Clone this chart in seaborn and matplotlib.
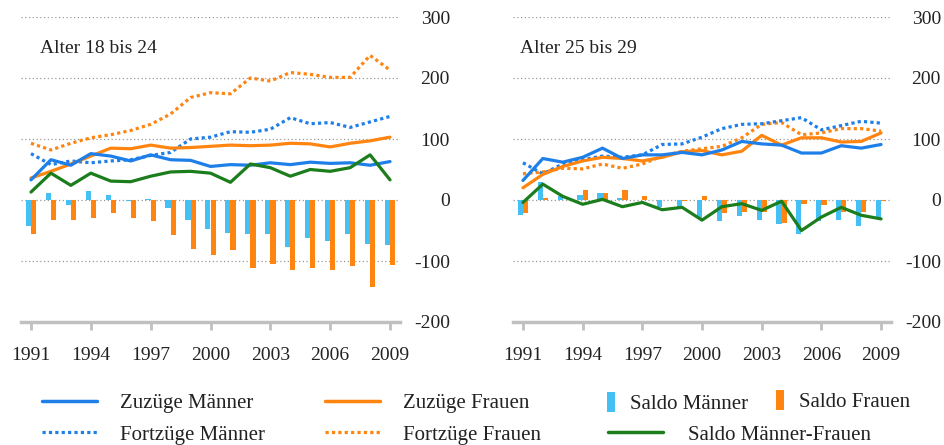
import matplotlib
matplotlib.use("Agg")
import matplotlib.pyplot as plt
from matplotlib.lines import Line2D
from matplotlib.patches import Patch
import seaborn as sns
import pandas as pd

years = list(range(1991, 2010))

# Alter 18 bis 24
zuz_m_1 = [33, 66, 57, 76, 72, 64, 74, 66, 65, 55, 58, 57, 61, 58, 62, 60, 61, 57, 63]
zuz_f_1 = [36, 47, 59, 72, 85, 84, 90, 85, 86, 88, 90, 89, 90, 93, 92, 87, 93, 97, 103]
fort_m_1 = [76, 58, 64, 61, 64, 66, 73, 78, 100, 103, 112, 111, 116, 135, 125, 127, 119, 128, 137]
fort_f_1 = [93, 82, 93, 102, 107, 114, 124, 141, 168, 176, 174, 200, 195, 209, 206, 201, 201, 237, 213]
saldo_m_1 = [-43, 12, -8, 14, 9, -1, 1, -13, -33, -47, -54, -55, -55, -77, -62, -67, -56, -72, -74]
saldo_f_1 = [-55, -33, -32, -29, -22, -30, -35, -58, -80, -90, -82, -111, -105, -114, -112, -114, -108, -143, -107]
saldo_mf_1 = [13, 44, 24, 44, 31, 30, 39, 46, 47, 44, 29, 59, 53, 39, 50, 47, 53, 74, 33]

# Alter 25 bis 29
zuz_m_2 = [32, 68, 62, 70, 85, 68, 74, 74, 78, 74, 82, 96, 92, 90, 77, 77, 89, 85, 91]
zuz_f_2 = [20, 42, 55, 64, 70, 68, 64, 70, 79, 81, 74, 80, 106, 90, 102, 102, 95, 96, 110]
fort_m_2 = [61, 43, 59, 66, 72, 70, 74, 91, 92, 103, 117, 124, 125, 130, 135, 115, 122, 129, 126]
fort_f_2 = [43, 46, 52, 51, 59, 52, 59, 72, 80, 84, 88, 102, 124, 127, 107, 110, 117, 117, 113]
saldo_m_2 = [-25, 29, 6, 9, 12, 4, 0, -12, -12, -29, -35, -27, -32, -40, -56, -35, -32, -43, -29]
saldo_f_2 = [-22, 4, 0, 16, 12, 16, 6, 0, -1, 7, -22, -20, -20, -38, -6, -8, -19, -19, -2]
saldo_mf_2 = [-4, 26, 6, -7, 1, -11, -4, -16, -12, -33, -11, -6, -17, -2, -50, -28, -12, -25, -31]

titles = ["Alter 18 bis 24", "Alter 25 bis 29"]
xtick_years = [1991, 1994, 1997, 2000, 2003, 2006, 2009]
yticks = [-200, -100, 0, 100, 200, 300]

BLUE = "#1e7fe8"
LBLUE = "#45c0f5"
ORANGE = "#ff8510"
GREEN = "#1b7d1b"
GRAY = "#c0c0c0"

sns.set_style("white")
plt.rcParams["font.family"] = ["Liberation Serif", "DejaVu Serif"]
plt.rcParams["axes.unicode_minus"] = False

W, H = 945, 445
fig = plt.figure(figsize=(W / 100, H / 100), dpi=100)
ax1 = fig.add_axes([21 / W, 1 - 322 / H, 379 / W, 305 / H])
ax2 = fig.add_axes([513 / W, 1 - 322 / H, 378 / W, 305 / H])

panels = [
    (ax1, zuz_m_1, zuz_f_1, fort_m_1, fort_f_1, saldo_m_1, saldo_f_1, saldo_mf_1, 0.05),
    (ax2, zuz_m_2, zuz_f_2, fort_m_2, fort_f_2, saldo_m_2, saldo_f_2, saldo_mf_2, 0.018),
]

for i, (ax, zm, zf, fm, ff, sm, sf, smf, tx) in enumerate(panels):
    df = pd.DataFrame({"Jahr": years, "zm": zm, "zf": zf, "fm": fm, "ff": ff,
                       "sm": sm, "sf": sf, "smf": smf})
    # bars: Saldo Männer links, Saldo Frauen rechts
    ax.bar(df["Jahr"] - 0.13, df["sm"], width=0.26, color=LBLUE, lw=0, zorder=2)
    ax.bar(df["Jahr"] + 0.13, df["sf"], width=0.26, color=ORANGE, lw=0, zorder=2)
    sns.lineplot(data=df, x="Jahr", y="ff", ax=ax, color=ORANGE, lw=2.3, ls=(0, (1, 1)), zorder=3)
    sns.lineplot(data=df, x="Jahr", y="fm", ax=ax, color=BLUE, lw=2.3, ls=(0, (1, 1)), zorder=3)
    sns.lineplot(data=df, x="Jahr", y="zf", ax=ax, color=ORANGE, lw=2.3, zorder=4)
    sns.lineplot(data=df, x="Jahr", y="zm", ax=ax, color=BLUE, lw=2.3, zorder=5)
    sns.lineplot(data=df, x="Jahr", y="smf", ax=ax, color=GREEN, lw=2.3, zorder=6)

    ax.set_xlim(1990.5, 2009.5)
    ax.set_ylim(-200, 300)
    ax.set_xlabel("")
    ax.set_ylabel("")
    ax.set_xticks(xtick_years)
    ax.set_xticklabels([str(y) for y in xtick_years])
    ax.set_yticks(yticks)
    ax.set_yticklabels([str(v) for v in yticks])
    ax.yaxis.tick_right()
    ax.tick_params(axis="y", length=0, pad=36, labelsize=14, labelcolor="#222222")
    plt.setp(ax.get_yticklabels(), ha="right")
    ax.tick_params(axis="x", bottom=True, length=6, width=2, color=GRAY, pad=12,
                   labelsize=14, labelcolor="#222222", direction="out")
    for s in ["top", "left", "right"]:
        ax.spines[s].set_visible(False)
    ax.spines["bottom"].set_color(GRAY)
    ax.spines["bottom"].set_linewidth(2.5)
    ax.grid(axis="y", ls=(0, (1, 2)), color="#999999", lw=0.9)
    ax.grid(axis="x", visible=False)
    ax.set_axisbelow(True)
    ax.text(tx, 249, titles[i], transform=ax.get_yaxis_transform(), fontsize=14,
            va="center", ha="left", color="#222222")


def add_key(handle, label, x_px, y_px, hl, hh, pad):
    fig.legend([handle], [label], loc="center left",
               bbox_to_anchor=(x_px / W, 1 - y_px / H), frameon=False,
               borderpad=0, borderaxespad=0, fontsize=15, handlelength=hl,
               handleheight=hh, handletextpad=pad, labelcolor="#222222")


add_key(Line2D([], [], color=BLUE, lw=2.5), "Zuzüge Männer", 42, 403, 2.64, 0.7, 1.1)
add_key(Line2D([], [], color=BLUE, lw=2.3, ls=(0, (1, 1))), "Fortzüge Männer", 42, 435, 2.64, 0.7, 1.1)
add_key(Line2D([], [], color=ORANGE, lw=2.5), "Zuzüge Frauen", 325, 403, 2.64, 0.7, 1.1)
add_key(Line2D([], [], color=ORANGE, lw=2.3, ls=(0, (1, 1))), "Fortzüge Frauen", 325, 435, 2.64, 0.7, 1.1)
add_key(Patch(color=LBLUE, lw=0), "Saldo Männer", 607, 403, 0.38, 1.1, 0.72)
add_key(Patch(color=ORANGE, lw=0), "Saldo Frauen", 776, 401, 0.38, 1.1, 0.72)
add_key(Line2D([], [], color=GREEN, lw=2.5), "Saldo Männer-Frauen", 608, 435, 2.64, 0.7, 1.2)

fig.savefig("out.png", dpi=100)
